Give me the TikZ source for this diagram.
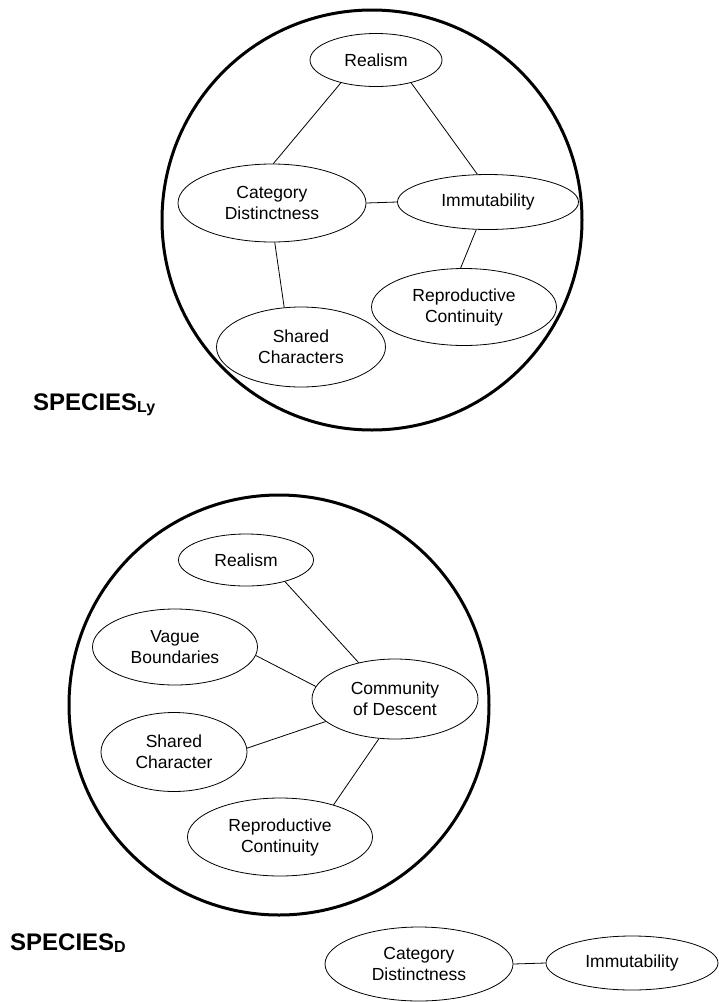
\documentclass[tikz,border=0pt]{standalone}
\usepackage{fontspec}
\setmainfont{Liberation Sans}
\usetikzlibrary{shapes.geometric}

\begin{document}
\begin{tikzpicture}[x=1pt,y=-1pt,
  prop/.style={ellipse, draw, line width=0.8pt, inner sep=0pt, align=center,
    font=\fontsize{17.5}{21}\selectfont},
  link/.style={line width=0.8pt},
  ring/.style={line width=3pt},
  kind/.style={anchor=base west, inner sep=0pt, font=\bfseries\fontsize{24}{24}\selectfont}]
\useasboundingbox (0,0) rectangle (719,1002);

% Draw the SPECIES_Ly circle
\draw[ring] (372,220) circle (210pt);

% Place the SPECIES_Ly properties
\node[prop, minimum width=132pt, minimum height=53pt] (lyReal) at (376,60) {Realism};
\node[prop, minimum width=188pt, minimum height=78pt] (lyCat) at (272,203) {Category\\Distinctness};
\node[prop, minimum width=181pt, minimum height=55pt] (lyImm) at (488,202) {Immutability};
\node[prop, minimum width=185pt, minimum height=77pt] (lyRep) at (464,307) {Reproductive\\Continuity};
\node[prop, minimum width=169pt, minimum height=80pt] (lyShr) at (301,347) {Shared\\Characters};

% Link the SPECIES_Ly properties
\draw[link] (lyReal.213) -- (lyCat.88);
\draw[link] (lyReal.327) -- (lyImm.111);
\draw[link] (lyCat.east) -- (lyImm.west);
\draw[link] (lyImm.247) -- (lyRep.95);
\draw[link] (lyCat.274) -- (lyShr.113);

% Label the SPECIES_Ly circle
\node[kind] (lyName) at (33,410) {SPECIES\raisebox{-2pt}{\fontsize{16}{16}\selectfont Ly}};

% Draw the SPECIES_D circle
\draw[ring] (279,705) circle (210pt);

% Place the SPECIES_D properties
\node[prop, minimum width=135pt, minimum height=52pt] (dReal) at (246,560) {Realism};
\node[prop, minimum width=165pt, minimum height=76pt] (dVag) at (175,647) {Vague\\Boundaries};
\node[prop, minimum width=166pt, minimum height=80pt] (dCom) at (395,699) {Community\\of Descent};
\node[prop, minimum width=146pt, minimum height=79pt] (dShr) at (174,752) {Shared\\Character};
\node[prop, minimum width=185pt, minimum height=78pt] (dRep) at (280,837) {Reproductive\\Continuity};

% Link the SPECIES_D properties
\draw[link] (dReal.331) -- (dCom.135);
\draw[link] (dVag.354) -- (dCom.171);
\draw[link] (dShr.3) -- (dCom.198);
\draw[link] (dCom.248) -- (dRep.31);

% Label the SPECIES_D circle
\node[kind] (dName) at (10,950) {SPECIES\raisebox{-2pt}{\fontsize{16}{16}\selectfont D}};

% Draw the properties left outside
\node[prop, minimum width=188pt, minimum height=74pt] (dCat) at (419,964) {Category\\Distinctness};
\node[prop, minimum width=172pt, minimum height=54pt] (dImm) at (632,963) {Immutability};
\draw[link] (dCat.east) -- (dImm.west);
\end{tikzpicture}
\end{document}
